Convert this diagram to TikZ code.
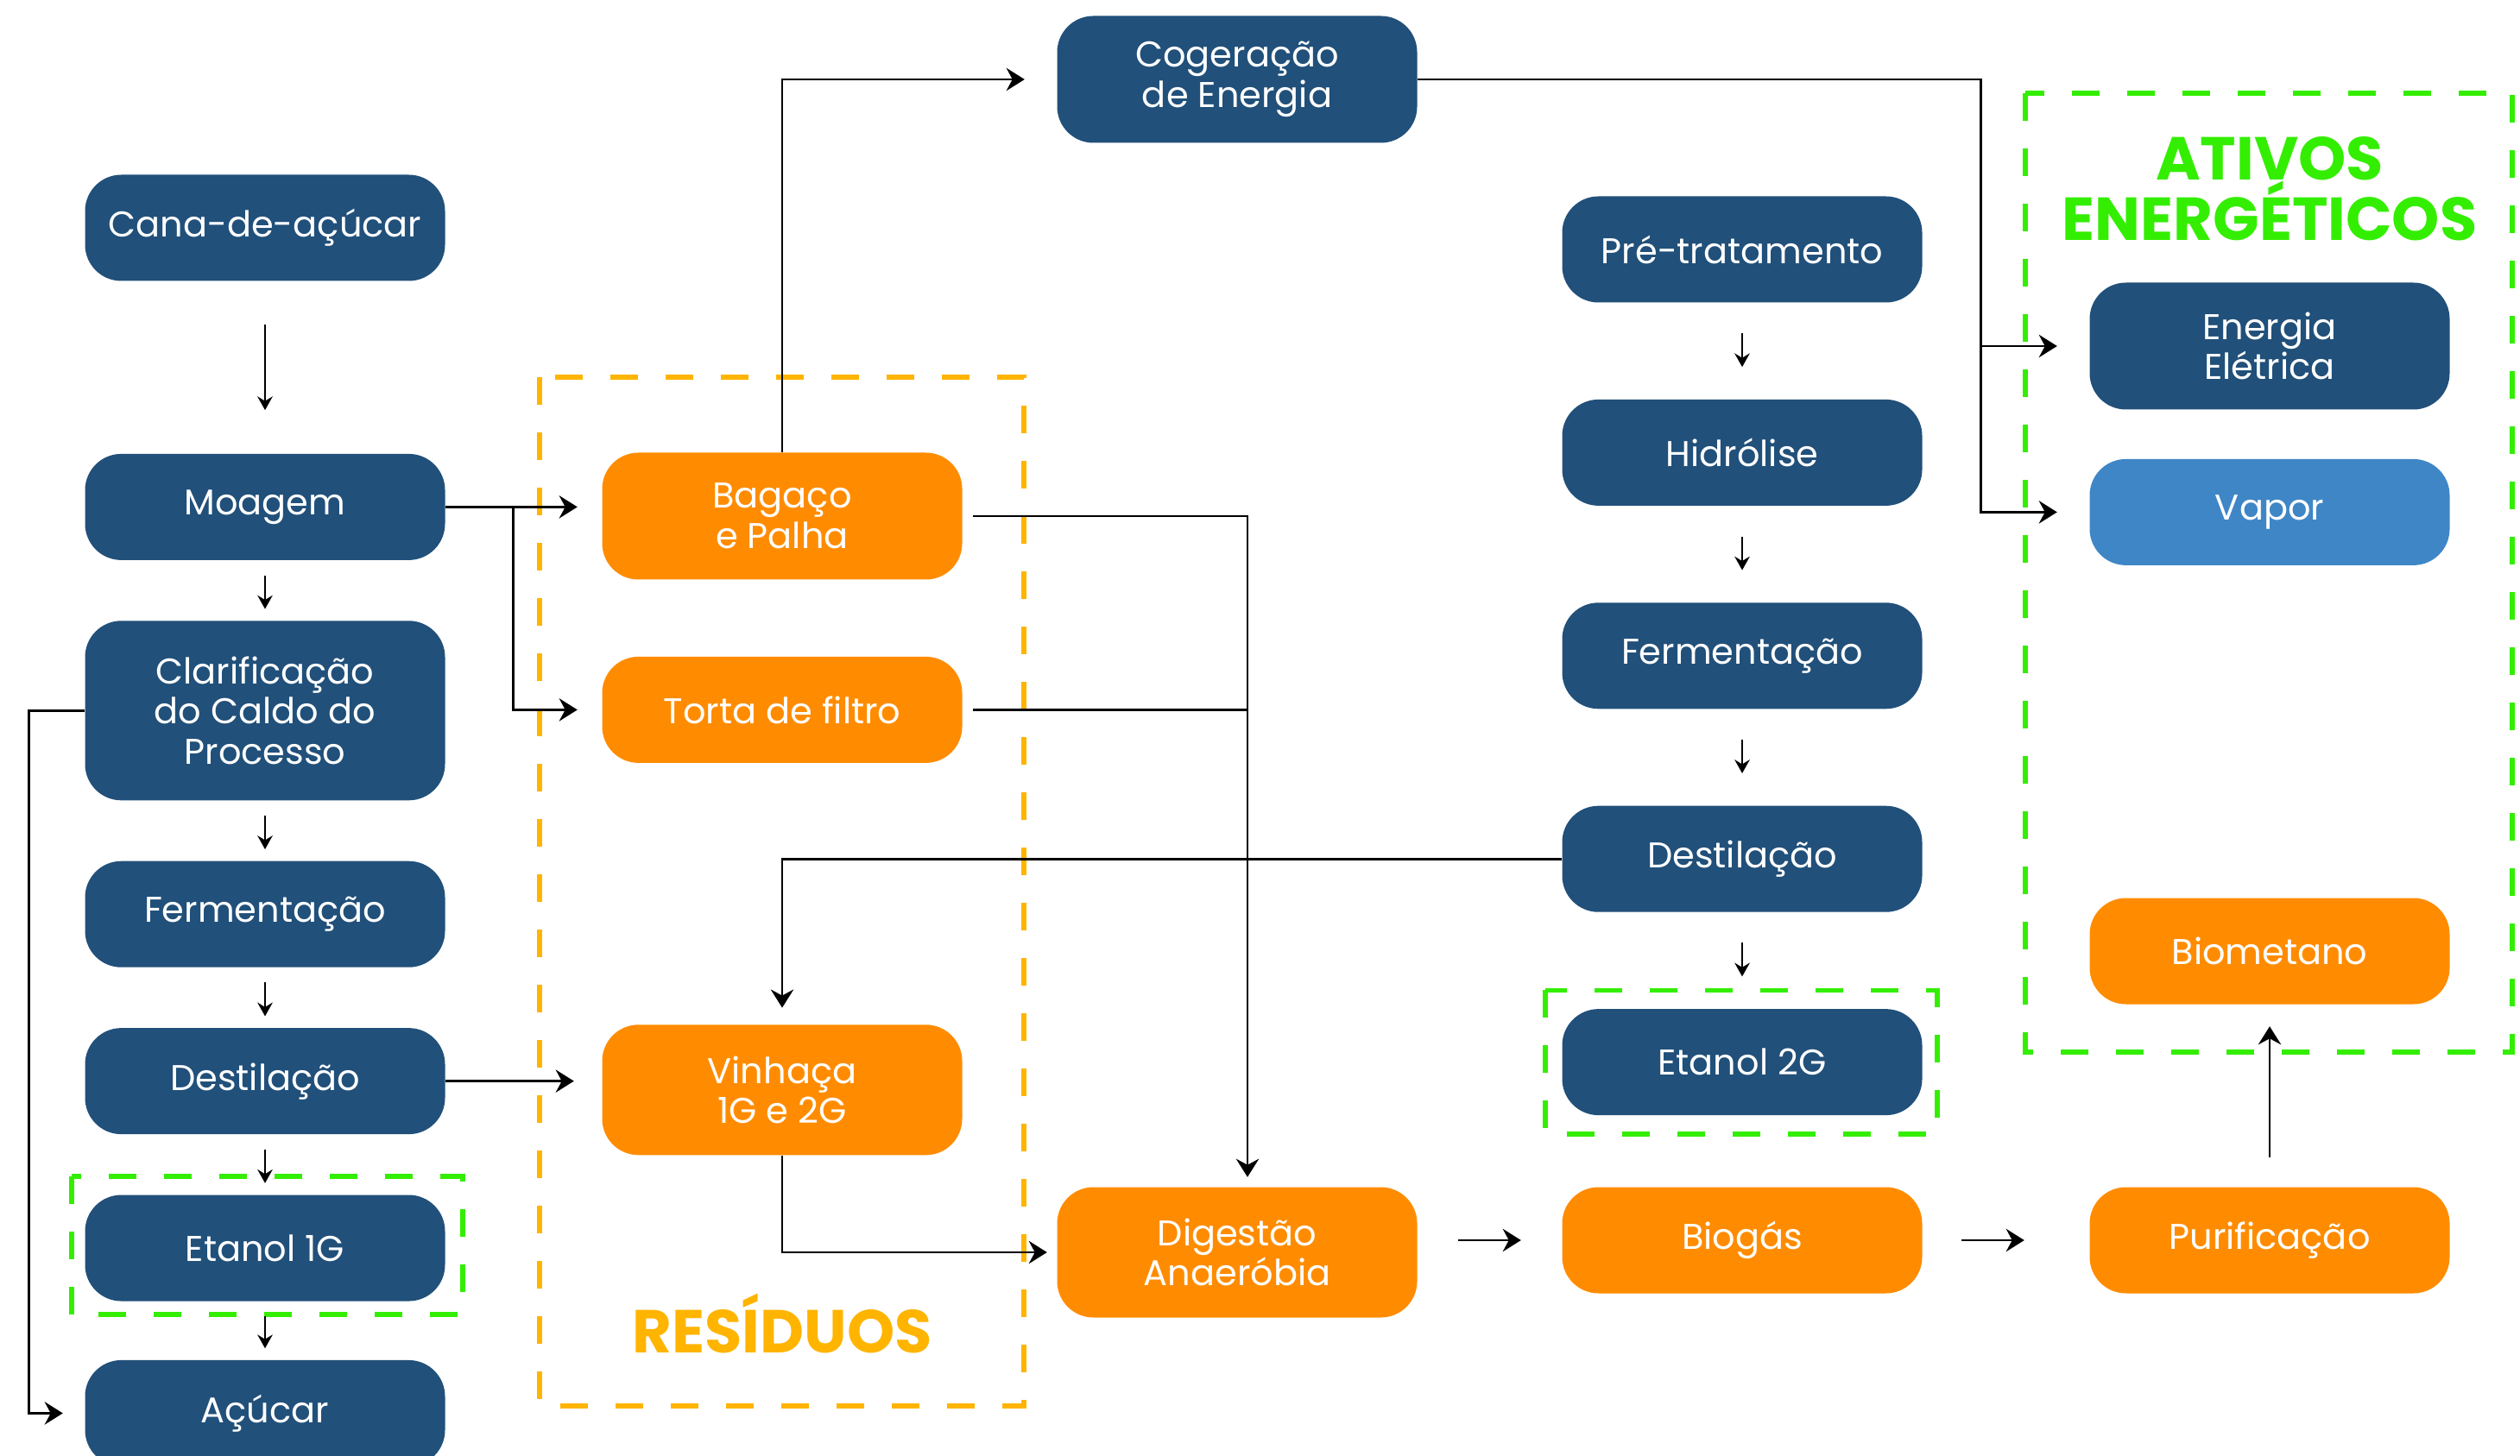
\documentclass[tikz,border=0pt]{standalone}
\usepackage{fontspec}
\setmainfont{Poppins}
\usetikzlibrary{arrows.meta,positioning}

\definecolor{azul}{HTML}{21507A}
\definecolor{azulclaro}{HTML}{3F86C6}
\definecolor{laranja}{HTML}{FF8C00}
\definecolor{amarelo}{HTML}{FFB400}
\definecolor{verde}{HTML}{33EE00}

\begin{document}
\begin{tikzpicture}[
    node distance=0.69cm,
    etapa/.style={rectangle, rounded corners=0.42cm, fill=azul, text=white, minimum width=4.17cm, minimum height=1.23cm, inner sep=0pt, align=center, font=\fontsize{11.8}{13.3}\selectfont},
    residuo/.style={etapa, fill=laranja},
    alto/.style={minimum height=1.47cm},
    seta/.style={-{Stealth[length=6pt,width=7.5pt,inset=2pt]}, line width=0.8pt},
    linha/.style={line width=0.8pt},
    passo/.style={-{Stealth[length=4.5pt,width=5pt,inset=1.5pt]}, line width=0.6pt, shorten <=0.17cm, shorten >=0.13cm},
    grupo/.style={dash pattern=on 0.32cm off 0.32cm, line width=1.6pt},
    titulo/.style={font=\fontsize{20}{22}\selectfont\bfseries, anchor=base}
]
    \useasboundingbox (0,0) rectangle (29.19,-16.87);
    \clip (0,0) rectangle (29.19,-16.87);

    % grupos
    \draw[grupo, draw=amarelo] (6.25,-4.37) rectangle (11.86,-16.29);
    \draw[grupo, draw=verde] (23.46,-1.08) rectangle (29.10,-12.19);

    % cana: 1G
    \node[etapa] (cana) at (3.07,-2.64) {Cana-de-açúcar};
    \node[etapa, below=1.99cm of cana] (moagem) {Moagem};
    \node[etapa, below=of moagem, minimum height=2.08cm] (clarif) {Clarificação\\do Caldo do\\Processo};
    \node[etapa, below=of clarif] (ferm1) {Fermentação};
    \node[etapa, below=of ferm1] (dest1) {Destilação};
    \node[etapa, below=of dest1] (etanol1) {Etanol 1G};
    \node[etapa, below=0.67cm of etanol1] (acucar) {Açúcar};

    % residuos
    \node[residuo, alto] (bagaco) at (9.06,-5.98) {Bagaço\\e Palha};
    \node[residuo, below=0.88cm of bagaco] (torta) {Torta de filtro};
    \node[residuo, minimum height=1.51cm, below=3.02cm of torta] (vinhaca) {Vinhaça\\1G e 2G};
    \node[titulo, text=amarelo] (residuos) at (9.06,-15.67) {RESÍDUOS};

    \node[etapa, alto] (cog) at (14.33,-0.92) {Cogeração\\de Energia};
    \node[residuo, minimum height=1.51cm] (dig) at (14.33,-14.51) {Digestão\\Anaeróbia};

    % 2G
    \node[etapa] (pre) at (20.18,-2.89) {Pré-tratamento};
    \node[etapa, below=1.11cm of pre] (hidro) {Hidrólise};
    \node[etapa, below=1.11cm of hidro] (ferm2) {Fermentação};
    \node[etapa, below=1.11cm of ferm2] (dest2) {Destilação};
    \node[etapa, below=1.11cm of dest2] (etanol2) {Etanol 2G};
    \node[residuo] (biogas) at (20.18,-14.37) {Biogás};

    % ativos
    \node[titulo, text=verde] (ativos) at (26.29,-2.09) {ATIVOS};
    \node[titulo, text=verde] (energeticos) at (26.29,-2.79) {ENERGÉTICOS};
    \node[etapa, alto] (energia) at (26.29,-4.01) {Energia\\Elétrica};
    \node[etapa, fill=azulclaro, below=0.56cm of energia] (vapor) {Vapor};
    \node[residuo] (biometano) at (26.29,-11.02) {Biometano};
    \node[residuo] (purif) at (26.29,-14.37) {Purificação};

    \draw[grupo, draw=verde] ([shift={(-0.15,0.21)}]etanol1.north west) rectangle ([shift={(0.20,-0.15)}]etanol1.south east);
    \draw[grupo, draw=verde] ([shift={(-0.19,0.21)}]etanol2.north west) rectangle ([shift={(0.17,-0.21)}]etanol2.south east);

    % etapas
    \draw[passo, shorten <=0.5cm, shorten >=0.5cm] (cana) -- (moagem);
    \foreach \a/\b in {moagem/clarif, clarif/ferm1, ferm1/dest1, dest1/etanol1, etanol1/acucar}
        \draw[passo] (\a) -- (\b);
    \foreach \a/\b in {pre/hidro, hidro/ferm2, ferm2/dest2, dest2/etanol2}
        \draw[passo, shorten <=0.35cm, shorten >=0.37cm] (\a) -- (\b);

    % fluxos
    \draw[seta, shorten >=0.28cm] (moagem.east) -- (moagem.east -| bagaco.west);
    \draw[seta, shorten >=0.28cm] ([xshift=0.78cm]moagem.east) |- (torta.west);
    \draw[seta, shorten >=0.32cm] (dest1.east) -- (dest1.east -| vinhaca.west);
    \draw[seta, shorten >=0.25cm] (clarif.west) -- ++(-0.64,0) |- (acucar.west);
    \draw[seta, shorten >=0.37cm] (bagaco.north) |- (cog.west);
    \draw[seta, shorten >=0.37cm] (cog.east) -| ([xshift=-1.25cm]vapor.west) -- (vapor.west);
    \draw[seta, shorten >=0.37cm] ([xshift=-1.25cm]energia.west) -- (energia.west);
    \draw[seta, shorten <=0.12cm, shorten >=0.11cm] (bagaco.east) -| ([xshift=0.12cm]dig.north);
    \draw[linha, shorten <=0.12cm] (torta.east) -- ([xshift=0.12cm]torta.east -| dig.north);
    \draw[seta, shorten >=0.19cm] (dest2.west) -| (vinhaca.north);
    \draw[seta, shorten >=0.11cm] (vinhaca.south) |- (dig.west);
    \draw[seta, shorten <=0.47cm, shorten >=0.47cm] (biogas -| dig.east) -- (biogas.west);
    \draw[seta, shorten <=0.45cm, shorten >=0.75cm] (biogas) -- (purif);
    \draw[seta, shorten <=0.34cm, shorten >=0.25cm] (purif) -- (biometano);
\end{tikzpicture}
\end{document}
